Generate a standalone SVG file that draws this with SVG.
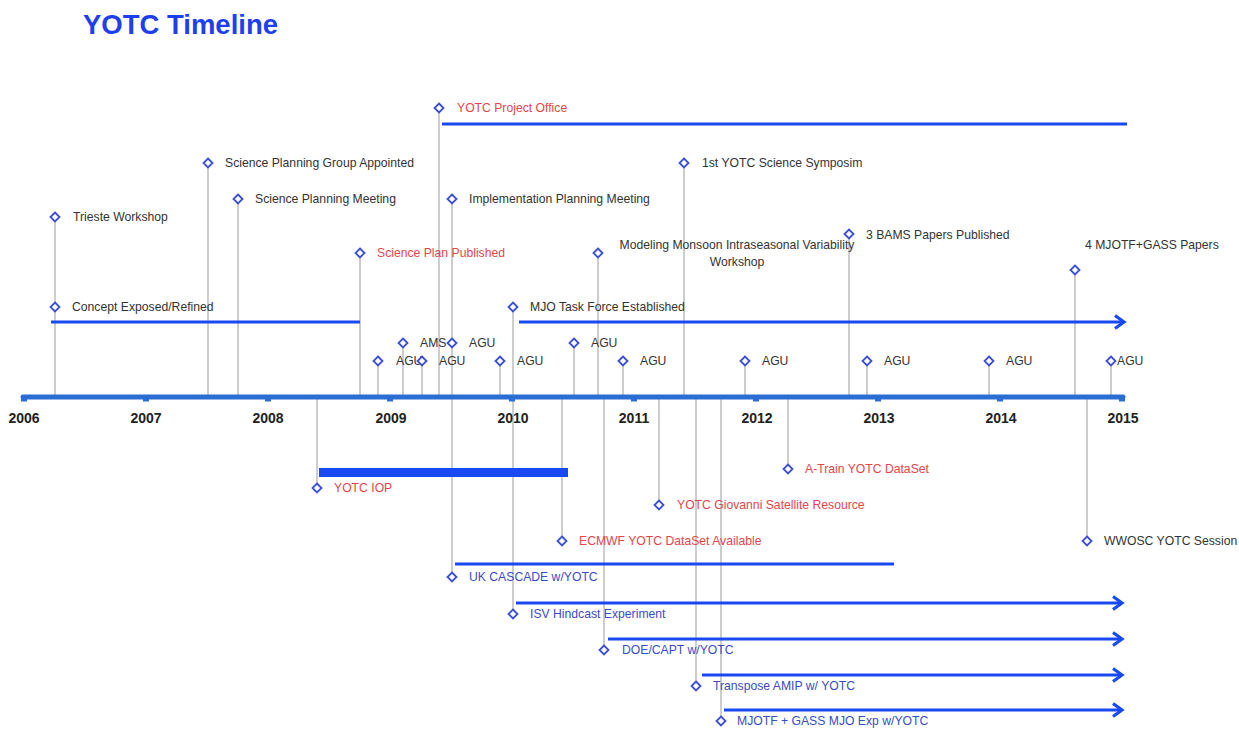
<svg xmlns="http://www.w3.org/2000/svg" xmlns:xlink="http://www.w3.org/1999/xlink" width="1239" height="729" viewBox="0 0 1239 729">
<style>
.stem{stroke:#cdcdcd;stroke-width:2;fill:none}
.dm{fill:#fff;stroke:#3b4fd6;stroke-width:1.8}
.lb{font-family:"Liberation Sans",Arial,sans-serif;font-size:12.2px;fill:#333}
.red{fill:#e2464b}
.blu{fill:#3a4cc4}
.yr{font-family:"Liberation Sans",Arial,sans-serif;font-size:14px;font-weight:bold;fill:#222;text-anchor:middle}
.bar{stroke:#1849f2;stroke-width:3;fill:none}
.arr{stroke:#1849f2;stroke-width:3;fill:none;marker-end:url(#ah)}
</style>
<defs>
<path id="d" class="dm" d="M0,-4.5 L4.5,0 L0,4.5 L-4.5,0Z"/>
<marker id="ah" markerUnits="userSpaceOnUse" markerWidth="16" markerHeight="18" refX="12" refY="8" orient="auto" viewBox="0 0 16 16">
<polyline points="3,1.5 12,8 3,14.5" fill="none" stroke="#1849f2" stroke-width="3.2" stroke-linejoin="miter"/>
</marker>
</defs>
<rect width="1239" height="729" fill="#fff"/>
<text x="83" y="34" font-family="'Liberation Sans',Arial,sans-serif" font-size="28" font-weight="bold" fill="#1d3ff0" textLength="195" lengthAdjust="spacingAndGlyphs">YOTC Timeline</text>

<g id="stems">
<line class="stem" x1="55" y1="217" x2="55" y2="397"/>
<line class="stem" x1="208" y1="163" x2="208" y2="397"/>
<line class="stem" x1="238" y1="199" x2="238" y2="397"/>
<line class="stem" x1="360" y1="253" x2="360" y2="397"/>
<line class="stem" x1="378" y1="361" x2="378" y2="397"/>
<line class="stem" x1="403" y1="343" x2="403" y2="397"/>
<line class="stem" x1="422" y1="361" x2="422" y2="397"/>
<line class="stem" x1="439" y1="108" x2="439" y2="397"/>
<line class="stem" x1="452" y1="199" x2="452" y2="577"/>
<line class="stem" x1="500" y1="361" x2="500" y2="397"/>
<line class="stem" x1="513" y1="307" x2="513" y2="614"/>
<line class="stem" x1="574" y1="343" x2="574" y2="397"/>
<line class="stem" x1="598" y1="253" x2="598" y2="397"/>
<line class="stem" x1="623" y1="361" x2="623" y2="397"/>
<line class="stem" x1="684" y1="163" x2="684" y2="397"/>
<line class="stem" x1="745" y1="361" x2="745" y2="397"/>
<line class="stem" x1="849" y1="234" x2="849" y2="397"/>
<line class="stem" x1="867" y1="361" x2="867" y2="397"/>
<line class="stem" x1="989" y1="361" x2="989" y2="397"/>
<line class="stem" x1="1075" y1="270" x2="1075" y2="397"/>
<line class="stem" x1="1111" y1="361" x2="1111" y2="397"/>
<line class="stem" x1="317" y1="397" x2="317" y2="488"/>
<line class="stem" x1="562" y1="397" x2="562" y2="541"/>
<line class="stem" x1="604" y1="397" x2="604" y2="650"/>
<line class="stem" x1="659" y1="397" x2="659" y2="505"/>
<line class="stem" x1="696" y1="397" x2="696" y2="686"/>
<line class="stem" x1="721" y1="397" x2="721" y2="721"/>
<line class="stem" x1="788" y1="397" x2="788" y2="469"/>
<line class="stem" x1="1087" y1="397" x2="1087" y2="541"/>
</g>

<g id="axis">
<line x1="23" y1="397" x2="1123" y2="397" stroke="#2a6ed4" stroke-width="5" stroke-linecap="round"/>
<g fill="#2a6ed4">
<rect x="21" y="398" width="6" height="3.5"/><rect x="143" y="398" width="6" height="3.5"/><rect x="265" y="398" width="6" height="3.5"/><rect x="387" y="398" width="6" height="3.5"/><rect x="509" y="398" width="6" height="3.5"/><rect x="631" y="398" width="6" height="3.5"/><rect x="753" y="398" width="6" height="3.5"/><rect x="875" y="398" width="6" height="3.5"/><rect x="997" y="398" width="6" height="3.5"/><rect x="1119" y="398" width="6" height="3.5"/>
</g>
<text class="yr" x="24" y="423">2006</text>
<text class="yr" x="146" y="423">2007</text>
<text class="yr" x="268" y="423">2008</text>
<text class="yr" x="391" y="423">2009</text>
<text class="yr" x="513" y="423">2010</text>
<text class="yr" x="634" y="423">2011</text>
<text class="yr" x="757" y="423">2012</text>
<text class="yr" x="879" y="423">2013</text>
<text class="yr" x="1001" y="423">2014</text>
<text class="yr" x="1123" y="423">2015</text>
</g>

<g id="connectors">
<line class="bar" x1="51" y1="322" x2="360" y2="322"/>
<line class="bar" x1="442" y1="124" x2="1127" y2="124"/>
<line class="arr" x1="519" y1="322" x2="1124" y2="322"/>
<rect x="319" y="468" width="249" height="9" fill="#1849f2"/>
<line class="bar" x1="455" y1="564" x2="894" y2="564"/>
<line class="arr" x1="516" y1="603" x2="1122" y2="603"/>
<line class="arr" x1="608" y1="639" x2="1122" y2="639"/>
<line class="arr" x1="702" y1="675" x2="1122" y2="675"/>
<line class="arr" x1="724" y1="710" x2="1122" y2="710"/>
</g>

<g id="trieste"><use xlink:href="#d" x="55" y="217"/><text class="lb" x="73" y="221">Trieste Workshop</text></g>
<g id="concept"><use xlink:href="#d" x="55" y="307"/><text class="lb" x="72" y="311">Concept Exposed/Refined</text></g>
<g id="spg"><use xlink:href="#d" x="208" y="163"/><text class="lb" x="225" y="167">Science Planning Group Appointed</text></g>
<g id="spm"><use xlink:href="#d" x="238" y="199"/><text class="lb" x="255" y="203">Science Planning Meeting</text></g>
<g id="spp"><use xlink:href="#d" x="360" y="253"/><text class="lb red" x="377" y="257">Science Plan Published</text></g>
<g id="agu08"><use xlink:href="#d" x="378" y="361"/><text class="lb" x="396" y="365">AGU</text></g>
<g id="ams09"><use xlink:href="#d" x="403" y="343"/><text class="lb" x="420" y="347">AMS</text></g>
<g id="agu09a"><use xlink:href="#d" x="422" y="361"/><text class="lb" x="439" y="365">AGU</text></g>
<g id="office"><use xlink:href="#d" x="439" y="108"/><text class="lb red" x="457" y="112">YOTC Project Office</text></g>
<g id="ipm"><use xlink:href="#d" x="452" y="199"/><text class="lb" x="469" y="203">Implementation Planning Meeting</text></g>
<g id="agu09b"><use xlink:href="#d" x="452" y="343"/><text class="lb" x="469" y="347">AGU</text></g>
<g id="agu09c"><use xlink:href="#d" x="500" y="361"/><text class="lb" x="517" y="365">AGU</text></g>
<g id="mjotf"><use xlink:href="#d" x="513" y="307"/><text class="lb" x="530" y="311">MJO Task Force Established</text></g>
<g id="agu10a"><use xlink:href="#d" x="574" y="343"/><text class="lb" x="591" y="347">AGU</text></g>
<g id="monsoon"><use xlink:href="#d" x="598" y="253"/><text class="lb" x="737" y="249" text-anchor="middle">Modeling Monsoon Intraseasonal Variability</text><text class="lb" x="737" y="266" text-anchor="middle">Workshop</text></g>
<g id="agu10b"><use xlink:href="#d" x="623" y="361"/><text class="lb" x="640" y="365">AGU</text></g>
<g id="symp"><use xlink:href="#d" x="684" y="163"/><text class="lb" x="702" y="167">1st YOTC Science Symposim</text></g>
<g id="agu11"><use xlink:href="#d" x="745" y="361"/><text class="lb" x="762" y="365">AGU</text></g>
<g id="bams"><use xlink:href="#d" x="849" y="234"/><text class="lb" x="866" y="239">3 BAMS Papers Published</text></g>
<g id="agu12"><use xlink:href="#d" x="867" y="361"/><text class="lb" x="884" y="365">AGU</text></g>
<g id="agu13"><use xlink:href="#d" x="989" y="361"/><text class="lb" x="1006" y="365">AGU</text></g>
<g id="papers4"><use xlink:href="#d" x="1075" y="270"/><text class="lb" x="1085" y="249">4 MJOTF+GASS Papers</text></g>
<g id="agu14"><use xlink:href="#d" x="1111" y="361"/><text class="lb" x="1117" y="365">AGU</text></g>

<g id="iop"><use xlink:href="#d" x="317" y="488"/><text class="lb red" x="334" y="492">YOTC IOP</text></g>
<g id="atrain"><use xlink:href="#d" x="788" y="469"/><text class="lb red" x="805" y="473">A-Train YOTC DataSet</text></g>
<g id="giovanni"><use xlink:href="#d" x="659" y="505"/><text class="lb red" x="677" y="509">YOTC Giovanni Satellite Resource</text></g>
<g id="ecmwf"><use xlink:href="#d" x="562" y="541"/><text class="lb red" x="579" y="545">ECMWF YOTC DataSet Available</text></g>
<g id="wwosc"><use xlink:href="#d" x="1087" y="541"/><text class="lb" x="1104" y="545">WWOSC YOTC Session</text></g>
<g id="cascade"><use xlink:href="#d" x="452" y="577"/><text class="lb blu" x="469" y="581">UK CASCADE w/YOTC</text></g>
<g id="isv"><use xlink:href="#d" x="513" y="614"/><text class="lb blu" x="530" y="618">ISV Hindcast Experiment</text></g>
<g id="doe"><use xlink:href="#d" x="604" y="650"/><text class="lb blu" x="622" y="654">DOE/CAPT w/YOTC</text></g>
<g id="amip"><use xlink:href="#d" x="696" y="686"/><text class="lb blu" x="713" y="690">Transpose AMIP w/ YOTC</text></g>
<g id="gass"><use xlink:href="#d" x="721" y="721"/><text class="lb blu" x="737" y="725">MJOTF + GASS MJO Exp w/YOTC</text></g>
</svg>
